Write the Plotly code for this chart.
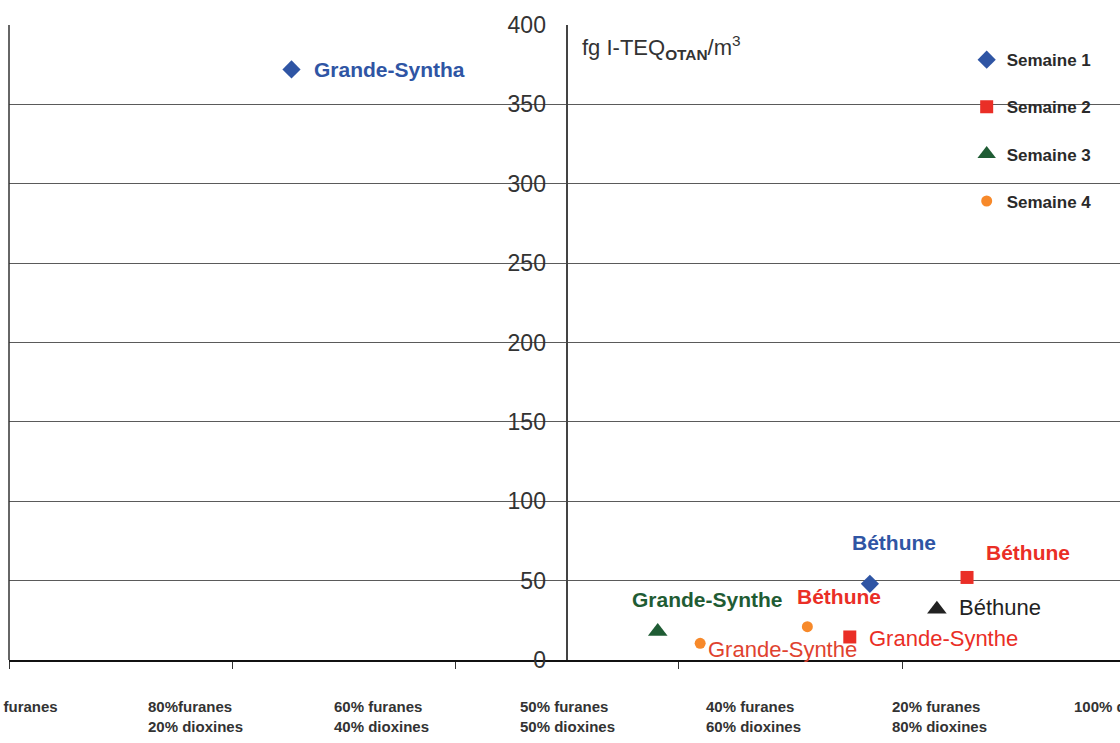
import plotly.graph_objects as go

# ---- data ----
weeks = ["Semaine 1", "Semaine 2", "Semaine 3", "Semaine 4"]
sites = [["Grande-Syntha", "Béthune"],
         ["Béthune", "Grande-Synthe"],
         ["Grande-Synthe", "Béthune"],
         ["Béthune", "Grande-Synthe"]]
pct_dioxines = [[25.3, 77.1],
                [85.8, 75.3],
                [58.1, 83.1],
                [71.5, 61.9]]
teq = [[372, 48],
       [52, 14.5],
       [18, 32],
       [21, 10.5]]
x_labels = ["100% furanes", "80%furanes<br>20% dioxines", "60% furanes<br>40% dioxines",
            "50% furanes<br>50% dioxines", "40% furanes<br>60% dioxines",
            "20% furanes<br>80% dioxines", "100% dioxines"]
y_ticks = [0, 50, 100, 150, 200, 250, 300, 350, 400]

# ---- styles ----
FONT = "Liberation Sans, Arial, sans-serif"
BLUE, RED, GREEN, ORANGE, DARK = "#2F55A4", "#EA2E26", "#1F5C34", "#F7892A", "#222222"
X_MAX = 99.5
symbols = ["diamond", "square", "triangle-up", "circle"]
marker_colors = [[BLUE, BLUE], [RED, RED], [GREEN, DARK], [ORANGE, ORANGE]]
marker_sizes = [14, 13, 17, 11]
label_style = [
    [dict(color=BLUE, xanchor="left", xshift=20, yshift=0, weight="bold"),
     dict(color=BLUE, xanchor="center", xshift=24, yshift=41, weight="bold")],
    [dict(color=RED, xanchor="center", xshift=61, yshift=25, weight="bold"),
     dict(color=RED, xanchor="left", xshift=17, yshift=-2, weight="normal")],
    [dict(color=GREEN, xanchor="center", xshift=50, yshift=32, weight="bold"),
     dict(color=DARK, xanchor="left", xshift=20, yshift=2, weight="normal")],
    [dict(color=RED, xanchor="center", xshift=32, yshift=30, weight="bold"),
     dict(color="#E0422F", xanchor="left", xshift=6, yshift=-6, weight="normal")],
]

fig = go.Figure()
for i, w in enumerate(weeks):
    fig.add_trace(go.Scatter(
        x=pct_dioxines[i], y=teq[i], mode="markers", name=w, legendgroup=w,
        marker=dict(symbol=symbols[i], size=marker_sizes[i], color=marker_colors[i],
                    line=dict(width=0)),
        cliponaxis=False,
    ))

annotations = []
for i in range(len(weeks)):
    for j, s in enumerate(sites[i]):
        st = label_style[i][j]
        annotations.append(dict(
            x=pct_dioxines[i][j], y=teq[i][j], xref="x", yref="y", text=s,
            showarrow=False, xanchor=st["xanchor"], yanchor="middle",
            xshift=st["xshift"], yshift=st["yshift"],
            font=dict(family=FONT, size=21 if st["weight"] == "bold" else 22,
                      color=st["color"], weight=st["weight"]),
        ))

n = len(x_labels) - 1
for k, lab in enumerate(x_labels):
    annotations.append(dict(
        x=(k * 100 / n) / X_MAX, y=0, xref="paper", yref="paper", text=lab, showarrow=False,
        xanchor="center", yanchor="top", yshift=-36, align="left",
        font=dict(family=FONT, size=15, color="#333333", weight="bold"),
    ))

annotations.append(dict(
    x=0.514, y=0.964, xref="paper", yref="paper", showarrow=False,
    xanchor="left", yanchor="middle",
    text="fg I-TEQ<sub><b>OTAN</b></sub>/m<sup>3</sup>",
    font=dict(family=FONT, size=22, color="#333333"),
))

fig.update_layout(
    width=1120, height=743,
    margin=dict(l=9, r=0, t=25, b=83),
    paper_bgcolor="white", plot_bgcolor="white",
    font=dict(family=FONT, color="#333333"),
    showlegend=True,
    legend=dict(x=0.862, y=0.973, xanchor="left", yanchor="top",
                font=dict(family=FONT, size=17, color="#2a2a2a", weight="bold"),
                tracegroupgap=22, bgcolor="rgba(0,0,0,0)"),
    annotations=annotations,
    shapes=[dict(type="line", xref="paper", yref="paper", x0=0, x1=0, y0=0, y1=1,
                 line=dict(color="#333333", width=1.5))],
    xaxis=dict(range=[0, X_MAX], showgrid=False, zeroline=False,
               showline=True, linecolor="#111111", linewidth=2,
               ticks="outside", ticklen=7, tickcolor="#333333", tickwidth=1.2,
               tickvals=[0, 20, 40, 60, 80, 100], showticklabels=False),
    yaxis=dict(range=[0, 400], anchor="free", position=50 / X_MAX,
               tickvals=y_ticks, showgrid=True, gridcolor="#5a5a5a", gridwidth=1.3,
               zeroline=False, showline=True, linecolor="#444444", linewidth=1.5,
               ticks="", ticklabelstandoff=16,
               tickfont=dict(family=FONT, size=23, color="#333333")),
)

fig.write_html("out.html")
